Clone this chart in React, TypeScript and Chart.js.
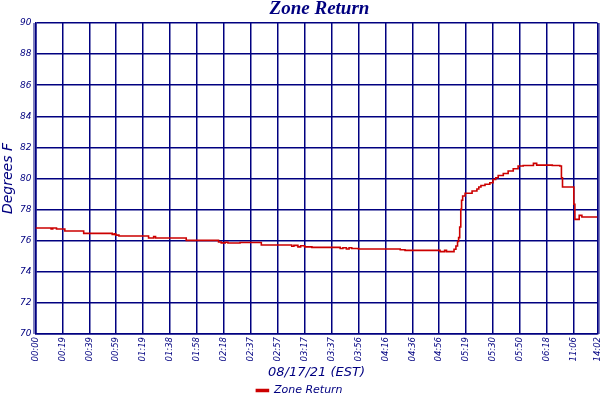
import React, { useEffect, useRef } from "react";
import { Chart, registerables } from "chart.js";

Chart.register(...registerables);

// Time labels for each vertical grid line (tick positions 0..20 and the final one)
const tickLabels = [
  "00:00", "00:19", "00:39", "00:59", "01:19", "01:38", "01:58", "02:18",
  "02:37", "02:57", "03:17", "03:37", "03:56", "04:16", "04:36", "04:56",
  "05:19", "05:30", "05:50", "06:18", "11:06", "14:02",
];
const tickPositions = [
  0, 1, 2, 3, 4, 5, 6, 7, 8, 9, 10, 11, 12, 13, 14, 15, 16, 17, 18, 19, 20, 20.88,
];

// Sample positions (in grid-interval units) where the reading changes
const sampleX = [
  0, 0.58, 0.64, 0.78, 1.09, 1.79, 2.85, 2.92, 2.98, 3.1,
  4.2, 4.39, 4.46, 5.6, 6.8, 6.9, 7.05, 7.15, 7.6, 8.39,
  9.52, 9.6, 9.75, 9.85, 10.0, 10.27, 11.32, 11.42, 11.55, 11.65,
  11.75, 12.0, 13.55, 13.73, 15.03, 15.2, 15.27, 15.55, 15.62, 15.68,
  15.72, 15.76, 15.8, 15.83, 15.87, 15.96, 16.22, 16.4, 16.47, 16.55,
  16.7, 16.88, 17.0, 17.1, 17.19, 17.38, 17.56, 17.75, 17.93, 18.12,
  18.5, 18.62, 19.2, 19.48, 19.54, 19.58, 20.0, 20.04, 20.2, 20.3,
  20.88,
];
// Zone Return temperature (°F)
const zoneReturn = [
  76.82, 76.76, 76.82, 76.75, 76.62, 76.47, 76.4, 76.45, 76.36, 76.3,
  76.17, 76.26, 76.17, 76.02, 75.92, 75.86, 75.9, 75.85, 75.88, 75.72,
  75.64, 75.7, 75.6, 75.68, 75.6, 75.57, 75.5, 75.55, 75.47, 75.55,
  75.5, 75.47, 75.42, 75.38, 75.3, 75.38, 75.3, 75.45, 75.66, 75.95,
  76.2, 76.88, 78.02, 78.6, 78.87, 79.05, 79.2, 79.32, 79.45, 79.55,
  79.63, 79.73, 79.94, 80.05, 80.19, 80.32, 80.48, 80.63, 80.8, 80.84,
  80.97, 80.86, 80.84, 80.8, 80.05, 79.45, 78.34, 77.37, 77.63, 77.52,
  77.52,
];

const yMin = 70;
const yMax = 90;
const yStep = 2;

const NAVY = "#000080";
const RED = "#cc0000";

const titlePlugin = {
  id: "centeredTitle",
  afterDraw(chart: any) {
    const { ctx, chartArea } = chart;
    ctx.save();
    ctx.font = 'bold italic 19px "Liberation Serif"';
    ctx.fillStyle = NAVY;
    ctx.textAlign = "center";
    ctx.textBaseline = "alphabetic";
    ctx.fillText("Zone Return", (chartArea.left + chartArea.right) / 2 + 3, 14);
    ctx.restore();
  },
};

// Thin second line just outside the left and right plot edges (double frame)
const framePlugin = {
  id: "doubleFrame",
  afterDraw(chart: any) {
    const { ctx, chartArea } = chart;
    ctx.save();
    ctx.strokeStyle = NAVY;
    ctx.lineWidth = 1;
    ctx.beginPath();
    ctx.moveTo(chartArea.left - 1.5, chartArea.top);
    ctx.lineTo(chartArea.left - 1.5, chartArea.bottom);
    ctx.moveTo(chartArea.right + 1.5, chartArea.top);
    ctx.lineTo(chartArea.right + 1.5, chartArea.bottom);
    ctx.stroke();
    ctx.restore();
  },
};

export default function App() {
  const canvasRef = useRef<HTMLCanvasElement | null>(null);

  useEffect(() => {
    document.body.style.margin = "0";
    const canvas = canvasRef.current;
    if (!canvas) return;
    const data = sampleX.map((x, i) => ({ x, y: zoneReturn[i] }));
    const chart = new Chart(canvas, {
      type: "line",
      data: {
        datasets: [
          {
            label: "Zone Return",
            data,
            borderColor: RED,
            backgroundColor: RED,
            borderWidth: 1.6,
            pointRadius: 0,
            stepped: "before",
          },
        ],
      },
      plugins: [titlePlugin, framePlugin],
      options: {
        responsive: false,
        animation: false,
        devicePixelRatio: 1,
        layout: { padding: { top: 23, left: 1.5, right: 2.5, bottom: -6 } },
        plugins: {
          title: { display: false },
          tooltip: { enabled: false },
          legend: {
            display: true,
            position: "bottom",
            labels: {
              color: NAVY,
              boxWidth: 12,
              boxHeight: 2,
              padding: 0,
              font: { family: '"DejaVu Sans"', size: 11, style: "italic" },
            },
          },
        },
        scales: {
          x: {
            type: "linear",
            min: 0,
            max: tickPositions[tickPositions.length - 1],
            afterBuildTicks(scale: any) {
              scale.ticks = tickPositions.map((v) => ({ value: v }));
            },
            afterFit(scale: any) {
              scale.height = 51;
              scale.paddingLeft = 0;
              scale.paddingRight = 0;
            },
            ticks: {
              autoSkip: false,
              maxRotation: 90,
              minRotation: 90,
              padding: 3,
              color: NAVY,
              font: { family: '"DejaVu Sans"', size: 8.5, style: "italic" },
              callback: (_v: any, i: number) => tickLabels[i],
            },
            grid: { color: NAVY, lineWidth: 1.5, drawTicks: false },
            border: { display: true, color: NAVY, width: 1.5 },
            title: {
              display: true,
              text: "08/17/21 (EST)",
              color: NAVY,
              padding: { top: 0, bottom: 6 },
              font: { family: '"DejaVu Sans"', size: 13, style: "italic", lineHeight: 1 },
            },
          },
          y: {
            min: yMin,
            max: yMax,
            afterFit(scale: any) {
              scale.width = 34;
            },
            ticks: {
              stepSize: yStep,
              padding: 4,
              color: NAVY,
              font: { family: '"DejaVu Sans"', size: 9, style: "italic" },
            },
            grid: { color: NAVY, lineWidth: 1.5, drawTicks: false },
            border: { display: true, color: NAVY, width: 1.5 },
            title: {
              display: true,
              text: "Degrees F",
              color: NAVY,
              padding: { top: 0, bottom: 0 },
              font: { family: '"DejaVu Sans"', size: 14, style: "italic", lineHeight: 1 },
            },
          },
        },
      },
    });
    return () => chart.destroy();
  }, []);

  return (
    <div style={{ width: 600, height: 400 }}>
      <canvas ref={canvasRef} width={600} height={400} />
    </div>
  );
}
